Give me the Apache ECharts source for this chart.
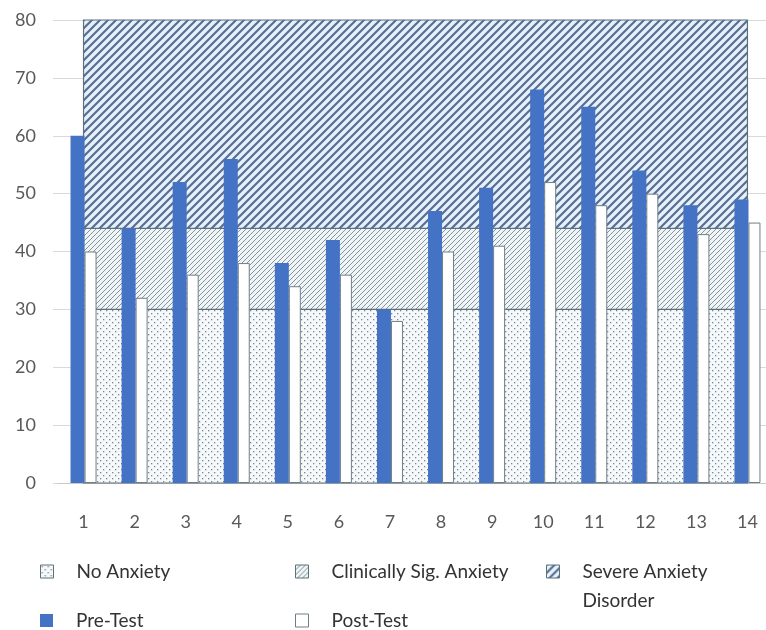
<!DOCTYPE html>
<html><head><meta charset="utf-8">
<script src="https://cdn.jsdelivr.net/npm/echarts@6/dist/echarts.min.js"></script>
<style>html,body{margin:0;padding:0;background:#fff}#c{width:766px;height:630px}</style>
</head><body><div id="c"></div>
<script>
// ---- data ----
const categories = ['1','2','3','4','5','6','7','8','9','10','11','12','13','14'];
const preTest  = [60, 44, 52, 56, 38, 42, 30, 47, 51, 68, 65, 54, 48, 49];
const postTest = [40, 32, 36, 38, 34, 36, 28, 40, 41, 52, 48, 50, 43, 45];
const bandNames = ['No Anxiety', 'Clinically Sig. Anxiety', 'Severe Anxiety Disorder'];
const bandLow  = [0, 30, 44];
const bandHigh = [30, 44, 80];
const yMin = 0, yMax = 80, yStep = 10;

// ---- patterns ----
function stripeTile(P, w, fg, bg) {
  const c = document.createElement('canvas'); c.width = P; c.height = P;
  const g = c.getContext('2d');
  g.fillStyle = bg; g.fillRect(0, 0, P, P);
  g.strokeStyle = fg; g.lineWidth = w; g.lineCap = 'square';
  g.beginPath();
  for (let x = -P; x <= P; x += P) { g.moveTo(x, P); g.lineTo(x + P, 0); }
  g.stroke();
  return { image: c, repeat: 'repeat' };
}
function dotTile(P, fg, bg) {
  const c = document.createElement('canvas'); c.width = P; c.height = P;
  const g = c.getContext('2d');
  g.fillStyle = bg; g.fillRect(0, 0, P, P);
  g.fillStyle = fg;
  g.fillRect(1, 1, 1.3, 1.3);
  g.fillRect(P / 2 + 1, P / 2 + 1, 1.3, 1.3);
  return { image: c, repeat: 'repeat' };
}
const bandFills = [
  dotTile(6, '#7d858c', '#f5f9fc'),
  stripeTile(5, 1, '#8b9298', '#eef5f9'),
  stripeTile(8, 2.2, '#5a6e93', '#e6f2fb')
];
const bandStroke = '#5c7179';
const preColor = '#4472C4';
const FONT = 'Lato';

const chart = echarts.init(document.getElementById('c'), null, { renderer: 'canvas' });

const bandSeries = bandNames.map((name, i) => ({
  name: name,
  type: 'custom',
  z: 1,
  itemStyle: { color: bandFills[i], borderColor: bandStroke, borderWidth: 1 },
  encode: { x: [0, 1], y: [2, 3] },
  data: [[categories[0], categories[categories.length - 1], bandLow[i], bandHigh[i]]],
  renderItem: function (params, api) {
    const p0 = api.coord([api.value(0), api.value(2)]);
    const p1 = api.coord([api.value(1), api.value(3)]);
    return {
      type: 'rect',
      shape: { x: p0[0], y: p1[1], width: p1[0] - p0[0], height: p0[1] - p1[1] },
      style: { fill: bandFills[i], stroke: bandStroke, lineWidth: 1.2 }
    };
  }
}));

const legendCommon = {
  orient: 'horizontal', icon: 'rect', itemWidth: 13, itemHeight: 13,
  selectedMode: false, padding: 0,
  textStyle: { fontFamily: FONT, fontSize: 19, color: '#333', padding: [0, 0, 0, 18], lineHeight: 29 }
};
function leg(name, itemStyle, left, top, formatter) {
  const o = Object.assign({}, legendCommon, {
    left: left, top: top,
    data: [{ name: name, itemStyle: itemStyle }]
  });
  if (formatter) o.formatter = formatter;
  return o;
}

chart.setOption({
  animation: false,
  backgroundColor: '#ffffff',
  grid: { left: 58, top: 20, right: -7, bottom: 147, containLabel: false, outerBoundsMode: 'none' },
  xAxis: {
    type: 'category', data: categories, boundaryGap: true,
    axisLine: { lineStyle: { color: '#c8c8c8' } },
    axisTick: { show: false },
    axisLabel: { margin: 30, fontFamily: FONT, fontSize: 18, color: '#595959' }
  },
  yAxis: {
    type: 'value', min: yMin, max: yMax, interval: yStep,
    axisLine: { show: false },
    axisTick: { show: true, length: 5, lineStyle: { color: '#d9d9d9' } },
    splitLine: { lineStyle: { color: '#d9d9d9' } },
    axisLabel: { margin: 22, fontFamily: FONT, fontSize: 18, color: '#595959' }
  },
  legend: [
    leg(bandNames[0], { color: bandFills[0], borderColor: bandStroke, borderWidth: 1 }, 40, 557),
    leg(bandNames[1], { color: bandFills[1], borderColor: bandStroke, borderWidth: 1 }, 295, 557),
    leg(bandNames[2], { color: bandFills[2], borderColor: bandStroke, borderWidth: 1 }, 546, 528,
      function () { return '\u00a0\nSevere Anxiety\nDisorder'; }),
    leg('Pre-Test', { color: preColor, borderWidth: 0 }, 40, 606),
    leg('Post-Test', { color: '#ffffff', borderColor: '#6f7f86', borderWidth: 1 }, 295, 606)
  ],
  series: bandSeries.concat([
    {
      name: 'Pre-Test', type: 'bar', z: 3, data: preTest,
      barWidth: 14, barGap: '0%',
      itemStyle: { color: preColor }
    },
    {
      name: 'Post-Test', type: 'bar', z: 3, data: postTest,
      barWidth: 12, barGap: '0%',
      itemStyle: { color: '#ffffff', borderColor: '#6f7f86', borderWidth: 1 }
    }
  ])
});
</script>
</body></html>
